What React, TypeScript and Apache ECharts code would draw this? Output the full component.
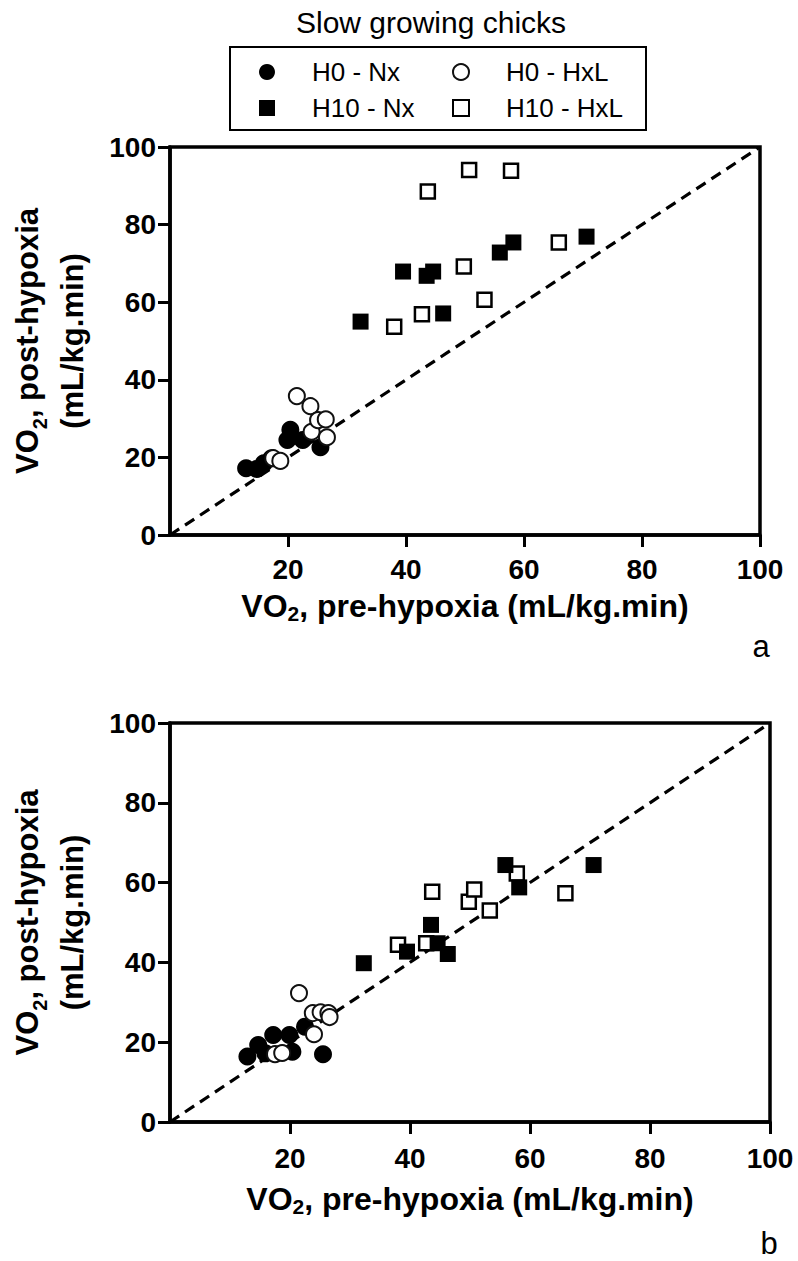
import React, { useEffect, useRef } from "react";
import * as echarts from "echarts";

// ---- data (VO2, mL/kg.min) ----
const xTicks = [20, 40, 60, 80, 100];
const seriesNames = ["H0 - Nx", "H0 - HxL", "H10 - Nx", "H10 - HxL"];

// pre-hypoxia values (same animals in both panels)
const h0NxPre = [12.9, 14.7, 15.9, 17.2, 19.9, 20.4, 22.5, 25.5];
const h0HxLPre = [17.5, 18.7, 21.5, 23.8, 24.0, 25.1, 26.4, 26.6];
const h10NxPre = [32.3, 39.5, 43.5, 44.6, 46.3, 55.9, 58.2, 70.6];
const h10HxLPre = [38.0, 42.7, 43.7, 49.8, 50.7, 53.3, 57.8, 65.9];

// panel a: post-hypoxia
const h0NxPostA = [17.2, 17.0, 18.5, 19.8, 24.5, 27.1, 24.5, 22.6];
const h0HxLPostA = [19.8, 19.1, 35.8, 33.2, 26.6, 29.6, 29.8, 25.2];
const h10NxPostA = [55.0, 67.9, 66.8, 67.9, 57.1, 72.8, 75.4, 76.9];
const h10HxLPostA = [53.7, 56.9, 88.5, 69.2, 94.1, 60.6, 93.9, 75.4];

// panel b: post-hypoxia
const h0NxPostB = [16.4, 19.3, 17.2, 21.8, 21.8, 17.6, 23.9, 17.0];
const h0HxLPostB = [17.0, 17.3, 32.3, 27.3, 22.0, 27.5, 27.3, 26.3];
const h10NxPostB = [39.8, 42.7, 49.4, 44.8, 42.1, 64.4, 58.8, 64.4];
const h10HxLPostB = [44.4, 44.8, 57.7, 55.2, 58.3, 53.0, 62.3, 57.3];

const identityLine = [
  [0, 0],
  [100, 100],
];

const FONT = "'Liberation Sans', Arial, Helvetica, sans-serif";

const zip = (xs: number[], ys: number[]) => xs.map((x, i) => [x, ys[i]]);

function panelSeries(idx: number, post: number[][]) {
  const [nx0, hx0, nx10, hx10] = post;
  const base = { type: "scatter", xAxisIndex: idx, yAxisIndex: idx, z: 3 };
  return [
    {
      type: "line",
      xAxisIndex: idx,
      yAxisIndex: idx,
      data: identityLine,
      symbol: "none",
      silent: true,
      z: 2,
      lineStyle: { color: "#000", width: 3.2, type: [11, 7] },
    },
    {
      ...base,
      name: seriesNames[3],
      symbol: "rect",
      symbolSize: 14,
      data: zip(h10HxLPre, hx10),
      itemStyle: { color: "#fff", borderColor: "#000", borderWidth: 2.5, opacity: 1 },
    },
    {
      ...base,
      name: seriesNames[2],
      symbol: "rect",
      symbolSize: 16,
      data: zip(h10NxPre, nx10),
      itemStyle: { color: "#000", opacity: 1 },
    },
    {
      ...base,
      name: seriesNames[0],
      symbol: "circle",
      symbolSize: 18,
      data: zip(h0NxPre, nx0),
      itemStyle: { color: "#000", opacity: 1 },
    },
    {
      ...base,
      name: seriesNames[1],
      symbol: "circle",
      symbolSize: 16,
      data: zip(h0HxLPre, hx0),
      itemStyle: { color: "#fff", borderColor: "#111", borderWidth: 2, opacity: 1 },
    },
  ];
}

const richName = {
  b: { fontSize: 31, fontWeight: "bold", fontFamily: FONT, color: "#000", lineHeight: 45 },
  sub: {
    fontSize: 20,
    fontWeight: "bold",
    fontFamily: FONT,
    color: "#000",
    lineHeight: 45,
    verticalAlign: "bottom",
  },
};

function xAxis(idx: number, labelMargin: number, nameGap: number) {
  return {
    type: "value",
    gridIndex: idx,
    min: 0,
    max: 100,
    interval: 20,
    name: "{b|VO}{sub|2}{b|, pre-hypoxia (mL/kg.min)}",
    nameLocation: "middle",
    nameGap,
    nameTextStyle: {
      rich: {
        b: { ...richName.b, fontSize: 32, lineHeight: 36 },
        sub: { ...richName.sub, fontSize: 21, lineHeight: 36 },
      },
    },
    axisLine: { show: true, onZero: false, lineStyle: { color: "#000", width: 3.5 } },
    axisTick: { show: true, length: 12, customValues: xTicks, lineStyle: { color: "#000", width: 3 } },
    axisLabel: {
      customValues: xTicks,
      margin: labelMargin,
      fontSize: 28,
      fontWeight: "bold",
      fontFamily: FONT,
      color: "#000",
    },
    splitLine: { show: false },
  };
}

function yAxis(idx: number) {
  return {
    type: "value",
    gridIndex: idx,
    min: 0,
    max: 100,
    interval: 20,
    name: "{b|VO}{sub|2}{b|, post-hypoxia}\n{b|(mL/kg.min)}",
    nameLocation: "middle",
    nameGap: 75,
    nameTextStyle: { rich: richName },
    axisLine: { show: true, onZero: false, lineStyle: { color: "#000", width: 3.5 } },
    axisTick: { show: true, length: 12, lineStyle: { color: "#000", width: 3 } },
    axisLabel: {
      margin: 14,
      fontSize: 28,
      fontWeight: "bold",
      fontFamily: FONT,
      color: "#000",
    },
    splitLine: { show: false },
  };
}

export default function App() {
  const ref = useRef<HTMLDivElement>(null);

  useEffect(() => {
    if (!ref.current) return;
    const chart = echarts.init(ref.current, null, { renderer: "svg" });
    chart.setOption({
      animation: false,
      backgroundColor: "#fff",
      textStyle: { fontFamily: FONT },
      grid: [
        { left: 170, top: 147, width: 590, height: 388, show: true, borderColor: "#000", borderWidth: 3.5 },
        { left: 170, top: 723, width: 600, height: 399, show: true, borderColor: "#000", borderWidth: 3.5 },
      ],
      xAxis: [xAxis(0, 20, 53), xAxis(1, 22, 59)],
      yAxis: [yAxis(0), yAxis(1)],
      legend: {
        data: seriesNames,
        left: 230,
        top: 47,
        width: 390,
        orient: "horizontal",
        padding: [10, 6, 7, 29],
        borderColor: "#000",
        borderWidth: 2,
        itemWidth: 16,
        itemHeight: 16,
        itemGap: 6,
        selectedMode: false,
        textStyle: {
          fontSize: 26,
          fontFamily: FONT,
          color: "#000",
          width: 134,
          lineHeight: 30,
          padding: [0, 0, 0, 32],
        },
      },
      graphic: [
        {
          type: "text",
          x: 431,
          y: 22,
          style: {
            text: "Slow growing chicks",
            fontSize: 30,
            fontFamily: FONT,
            fill: "#000",
            align: "center",
            verticalAlign: "middle",
          },
        },
        {
          type: "text",
          x: 761,
          y: 646,
          style: { text: "a", fontSize: 31, fontFamily: FONT, fill: "#000", align: "center", verticalAlign: "middle" },
        },
        {
          type: "text",
          x: 769,
          y: 1243,
          style: { text: "b", fontSize: 31, fontFamily: FONT, fill: "#000", align: "center", verticalAlign: "middle" },
        },
      ],
      series: [
        ...panelSeries(0, [h0NxPostA, h0HxLPostA, h10NxPostA, h10HxLPostA]),
        ...panelSeries(1, [h0NxPostB, h0HxLPostB, h10NxPostB, h10HxLPostB]),
      ],
    });
    return () => chart.dispose();
  }, []);

  return (
    <div
      ref={ref}
      style={{ position: "absolute", left: 0, top: 0, width: 798, height: 1261, background: "#fff" }}
    />
  );
}
